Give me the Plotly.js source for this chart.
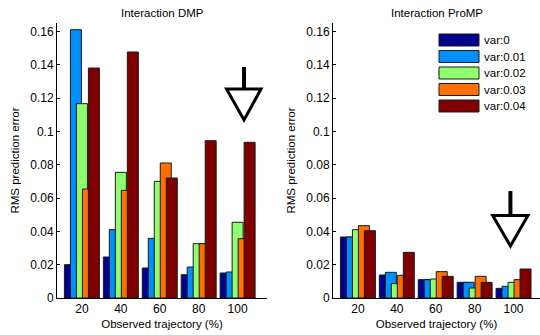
<!DOCTYPE html>
<html>
<head>
<meta charset="utf-8">
<script src="https://cdn.plot.ly/plotly-3.0.1.min.js"></script>
<style>
  html, body { margin: 0; padding: 0; background: #fff; }
  #chart { width: 540px; height: 335px; }
</style>
</head>
<body>
<div id="chart"></div>
<script>
// ---- data ----
var categories = [20, 40, 60, 80, 100];
var seriesNames = ["var:0", "var:0.01", "var:0.02", "var:0.03", "var:0.04"];
var seriesColors = ["#00008F", "#008FFF", "#8FFF70", "#FF7000", "#800000"];

var dmp_var0   = [0.0200, 0.0246, 0.0180, 0.0140, 0.0150];
var dmp_var001 = [0.1610, 0.0410, 0.0358, 0.0186, 0.0156];
var dmp_var002 = [0.1166, 0.0754, 0.0700, 0.0326, 0.0454];
var dmp_var003 = [0.0654, 0.0646, 0.0810, 0.0326, 0.0356];
var dmp_var004 = [0.1380, 0.1476, 0.0720, 0.0944, 0.0934];

var promp_var0   = [0.0366, 0.0138, 0.0110, 0.0094, 0.0058];
var promp_var001 = [0.0366, 0.0154, 0.0110, 0.0094, 0.0070];
var promp_var002 = [0.0410, 0.0086, 0.0114, 0.0060, 0.0094];
var promp_var003 = [0.0434, 0.0136, 0.0158, 0.0130, 0.0110];
var promp_var004 = [0.0404, 0.0274, 0.0130, 0.0094, 0.0174];

var yTickVals = [0, 0.02, 0.04, 0.06, 0.08, 0.1, 0.12, 0.14, 0.16];
var yTickText = ["0", "0.02", "0.04", "0.06", "0.08", "0.1", "0.12", "0.14", "0.16"];
var xTickText = ["20", "40", "60", "80", "100"];

// ---- build ----
var dmpSeries = [dmp_var0, dmp_var001, dmp_var002, dmp_var003, dmp_var004];
var prompSeries = [promp_var0, promp_var001, promp_var002, promp_var003, promp_var004];

var W = 540, H = 335, MT = 23, MB = 37;
var barW = 5.65, barStep = 3.08;
var groupHalf = (4 * barStep + barW) / 2;

var traces = [];
function addSeries(list, xa, ya) {
  list.forEach(function (vals, i) {
    traces.push({
      type: 'bar', x: categories, y: vals, xaxis: xa, yaxis: ya,
      name: seriesNames[i], showlegend: false, hoverinfo: 'skip',
      width: barW, offset: -groupHalf + i * barStep,
      marker: { color: seriesColors[i], line: { color: '#1a1a1a', width: 1 } }
    });
  });
}
addSeries(dmpSeries, 'x', 'y');
addSeries(prompSeries, 'x2', 'y2');

var font = { family: 'Liberation Sans, Arial, Helvetica, sans-serif', color: '#000' };
function f(size) { return { family: font.family, color: '#000', size: size }; }

function yaxisDef(anchor) {
  return {
    anchor: anchor, domain: [0, 1], range: [0, 0.165],
    tickvals: yTickVals, ticktext: yTickText,
    ticks: 'inside', ticklen: 3, tickwidth: 1, tickcolor: '#000',
    showline: true, linecolor: '#000', linewidth: 1,
    showgrid: false, zeroline: false, tickfont: f(12),
    title: { text: 'RMS prediction error', font: f(11.5), standoff: 8 }
  };
}
function xaxisDef(anchor, domain, range) {
  return {
    anchor: anchor, domain: domain, range: range,
    tickvals: categories, ticktext: xTickText, ticks: '',
    showline: true, linecolor: '#000', linewidth: 1,
    showgrid: false, zeroline: false, tickfont: f(12),
    title: { text: 'Observed trajectory (%)', font: f(11.5), standoff: 4 }
  };
}

function py(p) { return (H - MB - p) / (H - MT - MB); }

var shapes = [
  // arrow left plot
  { type: 'line', xref: 'x', yref: 'y', x0: 103.3, x1: 103.3, y0: 0.1386, y1: 0.1254,
    line: { color: '#000', width: 4 } },
  { type: 'path', xref: 'x', yref: 'y', path: 'M 94.3 0.1254 L 112.0 0.1254 L 103.3 0.1068 Z',
    line: { color: '#000', width: 3 }, fillcolor: 'rgba(255,255,255,0)' },
  // arrow right plot
  { type: 'line', xref: 'x2', yref: 'y2', x0: 98.4, x1: 98.4, y0: 0.0642, y1: 0.0495,
    line: { color: '#000', width: 4 } },
  { type: 'path', xref: 'x2', yref: 'y2', path: 'M 89.3 0.0495 L 107.4 0.0495 L 98.4 0.0312 Z',
    line: { color: '#000', width: 3 }, fillcolor: 'rgba(255,255,255,0)' }
];

var annotations = [
  { text: 'Interaction DMP', xref: 'paper', yref: 'paper', x: 162 / W, y: py(13),
    xanchor: 'center', yanchor: 'middle', showarrow: false, font: f(11.5) },
  { text: 'Interaction ProMP', xref: 'paper', yref: 'paper', x: 437 / W, y: py(13),
    xanchor: 'center', yanchor: 'middle', showarrow: false, font: f(11.5) }
];

// custom legend (MATLAB-style wide patches)
var legendRow0 = 40, legendRowStep = 16.5;
seriesNames.forEach(function (nm, i) {
  var cy = legendRow0 + i * legendRowStep;
  shapes.push({ type: 'rect', xref: 'paper', yref: 'paper',
    x0: 439 / W, x1: 479 / W, y0: py(cy + 6), y1: py(cy - 6),
    fillcolor: seriesColors[i], line: { color: '#1a1a1a', width: 1 } });
  annotations.push({ text: nm, xref: 'paper', yref: 'paper', x: 482 / W, y: py(cy),
    xanchor: 'left', yanchor: 'middle', showarrow: false, font: f(11.5) });
});

var layout = {
  width: W, height: H,
  margin: { l: 0, r: 0, t: MT, b: MB, pad: 0 },
  paper_bgcolor: '#fff', plot_bgcolor: '#fff',
  barmode: 'overlay', showlegend: false, font: f(12),
  xaxis: xaxisDef('y', [57 / W, 267 / W], [7.2, 115.1]),
  yaxis: yaxisDef('x'),
  xaxis2: xaxisDef('y2', [333 / W, 1], [7.2, 113.6]),
  yaxis2: yaxisDef('x2'),
  shapes: shapes, annotations: annotations
};

Plotly.newPlot('chart', traces, layout, { staticPlot: true, displayModeBar: false });
</script>
</body>
</html>
